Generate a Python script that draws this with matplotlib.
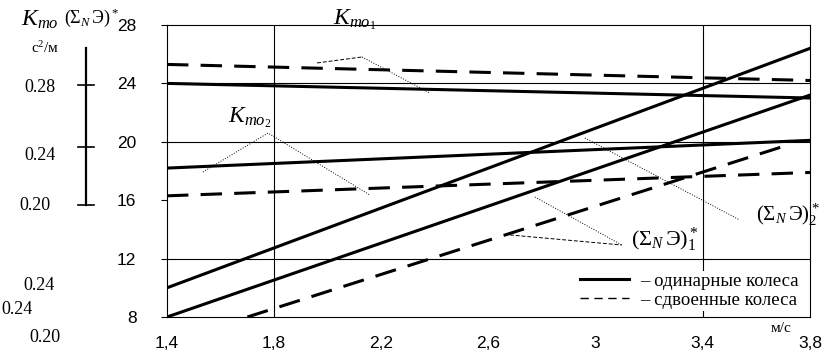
# Зависимость K_то и (ΣNЭ)* от скорости для одинарных и сдвоенных колес

import matplotlib.pyplot as plt
from matplotlib.lines import Line2D

plt.rcParams['mathtext.fontset'] = 'custom'
plt.rcParams['mathtext.rm'] = 'Liberation Serif'
plt.rcParams['mathtext.it'] = 'Liberation Serif:italic'

# данные (скорость, м/с)
x_ends = [1.4, 3.8]
k1_single = [24.0, 23.0]
k1_dual = [25.3, 24.2]
k2_single = [18.2, 20.1]
k2_dual = [16.3, 17.9]
e_single_upper = [10.0, 26.4]
e_single_lower = [8.0, 23.2]
x_dual_rise = [1.7, 3.72]
e_dual = [8.0, 19.8]

x_ticks = [1.4, 1.8, 2.2, 2.6, 3.0, 3.4, 3.8]
x_labels = ['1,4', '1,8', '2,2', '2,6', '3', '3,4', '3,8']
y_ticks = [8, 12, 16, 20, 24, 28]

W, H = 828, 353
fig = plt.figure(figsize=(W / 100, H / 100), dpi=100)
ax = fig.add_axes([167 / W, 1 - 317 / H, (810 - 167) / W, (317 - 25) / H])

lw = 2.2
dash = (7, 4)
ax.plot(x_ends, k1_single, color='black', lw=lw)
ax.plot(x_ends, k1_dual, color='black', lw=lw, dashes=dash)
ax.plot(x_ends, k2_single, color='black', lw=lw)
ax.plot(x_ends, k2_dual, color='black', lw=lw, dashes=dash)
ax.plot(x_ends, e_single_upper, color='black', lw=lw)
ax.plot(x_ends, e_single_lower, color='black', lw=lw)
ax.plot(x_dual_rise, e_dual, color='black', lw=lw, dashes=dash)

# сетка
for yv in [12, 20, 24]:
    ax.axhline(yv, color='black', lw=0.8, zorder=1)
for xv in [1.8, 3.4]:
    ax.axvline(xv, color='black', lw=0.8, zorder=1)

ax.set_xlim(1.4, 3.8)
ax.set_ylim(8, 28)
ax.set_xticks(x_ticks)
ax.set_xticklabels(x_labels)
ax.set_yticks(y_ticks)
ax.set_xticks([1.8, 3.4, 3.8], minor=True)
ax.tick_params(axis='x', which='major', length=0, pad=14)
ax.tick_params(axis='x', which='minor', length=10, direction='inout', width=0.8)
ax.tick_params(axis='y', length=4, width=0.8, pad=18)
for lab in ax.get_xticklabels() + ax.get_yticklabels():
    lab.set_family('Liberation Sans')
    lab.set_fontsize(12.5)
for s in ax.spines.values():
    s.set_linewidth(0.8)

# выноски
thin = dict(color='black', lw=0.7)
ax.plot([1.96, 2.128], [25.40, 25.81], ls=(0, (4, 2)), **thin)
ax.plot([2.128, 2.381], [25.81, 23.34], ls=':', **thin)
ax.plot([1.534, 1.777, 2.157], [17.93, 20.60, 16.36], ls=':', **thin)
ax.plot([2.96, 3.538], [20.26, 14.64], ls=':', **thin)
ax.plot([2.773, 3.098], [16.22, 12.93], ls=':', **thin)
ax.plot([2.68, 3.098], [13.62, 12.93], ls=(0, (4, 2)), **thin)

# легенда
handles = [Line2D([], [], color='black', lw=lw),
           Line2D([], [], color='black', lw=1.0, dashes=(6, 4))]
leg = ax.legend(handles, ['– одинарные колеса', '– сдвоенные колеса'],
                loc='lower right', bbox_to_anchor=(1.0, -0.01),
                frameon=True, fancybox=False, handlelength=2.6,
                handletextpad=0.6, labelspacing=0.1, borderpad=0.1,
                prop={'family': 'Liberation Serif', 'size': 13.5})
leg.get_frame().set_edgecolor('none')
leg.get_frame().set_facecolor('white')
leg.get_frame().set_alpha(1)

serif = dict(family='Liberation Serif', color='black')


def ftext(px, py, s, size=12, ha='center', va='center'):
    fig.text(px / W, 1 - py / H, s, fontsize=size, ha=ha, va=va, **serif)


# подписи кривых
ftext(355, 20, r'$K_{\mathit{то}_1}$', size=17)
ftext(250, 118, r'$K_{\mathit{то}_2}$', size=17)
ftext(665, 240, r'$(\Sigma_N\,\mathrm{Э})^*_1$', size=16)
ftext(788, 215, r'$(\Sigma_N\,\mathrm{Э})^*_2$', size=15)

# левая дополнительная шкала
ftext(40, 20, r'$K_{\mathit{то}}$', size=17)
ftext(92, 18, r'$(\Sigma_N\,\mathrm{Э})^*$', size=13)
ftext(45, 48, 'с$^2$/м', size=11)
fig.add_artist(Line2D([86 / W, 86 / W], [1 - 48 / H, 1 - 205 / H], color='black', lw=1.6))
for py in [85, 147, 205]:
    fig.add_artist(Line2D([78 / W, 94 / W], [1 - py / H, 1 - py / H], color='black', lw=1.2))
ftext(40, 88, '0.28', size=13)
ftext(40, 155, '0.24', size=13)
ftext(35, 205, '0.20', size=13)
ftext(39, 285, '0.24', size=13)
ftext(17, 310, '0.24', size=13)
ftext(45, 338, '0.20', size=13)

ftext(781, 328, 'м/с', size=11)

plt.savefig('out.png', dpi=100)
plt.close()
